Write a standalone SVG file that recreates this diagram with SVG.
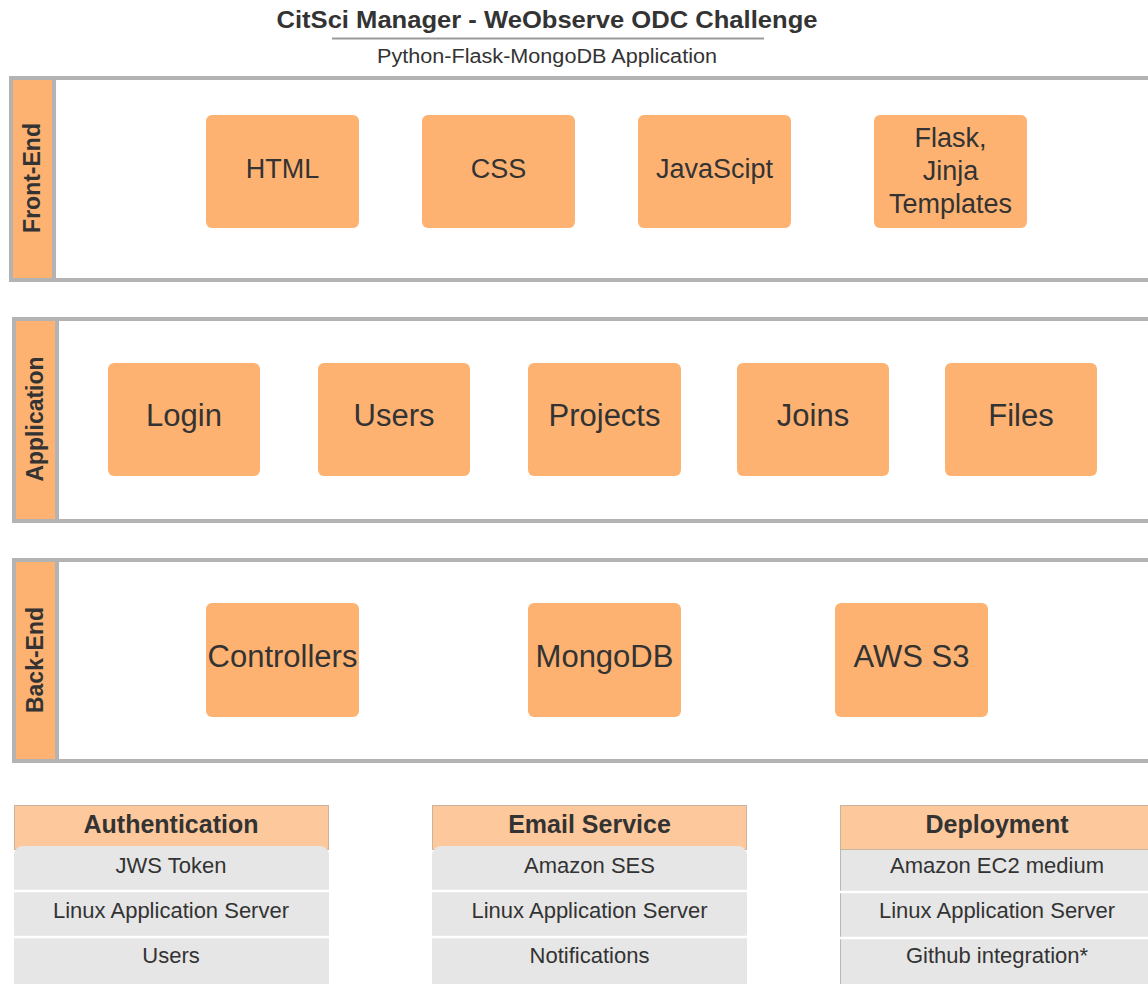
<svg xmlns="http://www.w3.org/2000/svg" width="1148" height="984" viewBox="0 0 1148 984">
<style>
text{font-family:"Liberation Sans",Arial,sans-serif;fill:#333333}
.band{fill:#ffffff;stroke:#b3b3b3;stroke-width:4}
.lab{fill:#fdb272;stroke:#b3b3b3;stroke-width:4}
.vt{font-size:23px;font-weight:bold;text-anchor:middle}
.node{fill:#fdb272}
.t26{font-size:27px;text-anchor:middle}
.t31{font-size:31px;text-anchor:middle}
.hdr{fill:#fdc99c;stroke:#c9b49f;stroke-width:1}
.body{fill:#e6e6e6}
.sep{stroke:#ffffff;stroke-width:2.5}
.ht{font-size:25px;font-weight:bold;text-anchor:middle}
.rt{font-size:22px;text-anchor:middle}
</style>
<rect width="1148" height="984" fill="#ffffff"/>
<g id="title">
<text x="547" y="28" font-size="24" font-weight="bold" text-anchor="middle" textLength="541" lengthAdjust="spacingAndGlyphs">CitSci Manager - WeObserve ODC Challenge</text>
<line x1="332" y1="38.5" x2="764" y2="38.5" stroke="#9a9a9a" stroke-width="2"/>
<text x="547" y="63" font-size="20" text-anchor="middle" textLength="340" lengthAdjust="spacingAndGlyphs">Python-Flask-MongoDB Application</text>
</g>
<g id="band-frontend">
<rect class="band" x="11" y="78" width="1150" height="202"/>
<rect class="lab" x="11" y="78" width="43" height="202"/>
<text class="vt" transform="translate(40,178) rotate(-90)">Front-End</text>
</g>
<g id="band-application">
<rect class="band" x="14" y="319" width="1150" height="202"/>
<rect class="lab" x="14" y="319" width="43" height="202"/>
<text class="vt" transform="translate(43,419) rotate(-90)">Application</text>
</g>
<g id="band-backend">
<rect class="band" x="14" y="560" width="1150" height="201"/>
<rect class="lab" x="14" y="560" width="43" height="201"/>
<text class="vt" transform="translate(43,660) rotate(-90)">Back-End</text>
</g>
<g id="node-html"><rect class="node" x="206" y="115" width="153" height="113" rx="6"/><text class="t26" x="282.5" y="178">HTML</text></g>
<g id="node-css"><rect class="node" x="422" y="115" width="153" height="113" rx="6"/><text class="t26" x="498.5" y="178">CSS</text></g>
<g id="node-js"><rect class="node" x="638" y="115" width="153" height="113" rx="6"/><text class="t26" x="714.5" y="178">JavaScipt</text></g>
<g id="node-flask"><rect class="node" x="874" y="115" width="153" height="113" rx="6"/><text class="t26" x="950.5" y="147">Flask,</text><text class="t26" x="950.5" y="180">Jinja</text><text class="t26" x="950.5" y="213">Templates</text></g>
<g id="node-login"><rect class="node" x="108" y="363" width="152" height="113" rx="6"/><text class="t31" x="184" y="426">Login</text></g>
<g id="node-users"><rect class="node" x="318" y="363" width="152" height="113" rx="6"/><text class="t31" x="394" y="426">Users</text></g>
<g id="node-projects"><rect class="node" x="528" y="363" width="153" height="113" rx="6"/><text class="t31" x="604.5" y="426">Projects</text></g>
<g id="node-joins"><rect class="node" x="737" y="363" width="152" height="113" rx="6"/><text class="t31" x="813" y="426">Joins</text></g>
<g id="node-files"><rect class="node" x="945" y="363" width="152" height="113" rx="6"/><text class="t31" x="1021" y="426">Files</text></g>
<g id="node-controllers"><rect class="node" x="206" y="603" width="153" height="114" rx="6"/><text class="t31" x="282.5" y="667">Controllers</text></g>
<g id="node-mongodb"><rect class="node" x="528" y="603" width="153" height="114" rx="6"/><text class="t31" x="604.5" y="667">MongoDB</text></g>
<g id="node-awss3"><rect class="node" x="835" y="603" width="153" height="114" rx="6"/><text class="t31" x="911.5" y="667">AWS S3</text></g>
<g id="table-authentication">
<rect class="hdr" x="14.5" y="805.5" width="314" height="44"/>
<rect class="body" x="14" y="846" width="315" height="150" rx="9"/>
<line class="sep" x1="14" y1="891" x2="329" y2="891"/>
<line class="sep" x1="14" y1="937" x2="329" y2="937"/>
<text class="ht" x="171" y="833">Authentication</text>
<text class="rt" x="171" y="873">JWS Token</text>
<text class="rt" x="171" y="918">Linux Application Server</text>
<text class="rt" x="171" y="963">Users</text>
</g>
<g id="table-email">
<rect class="hdr" x="432.5" y="805.5" width="314" height="44"/>
<rect class="body" x="432" y="846" width="315" height="150" rx="9"/>
<line class="sep" x1="432" y1="891" x2="747" y2="891"/>
<line class="sep" x1="432" y1="937" x2="747" y2="937"/>
<text class="ht" x="589.5" y="833">Email Service</text>
<text class="rt" x="589.5" y="873">Amazon SES</text>
<text class="rt" x="589.5" y="918">Linux Application Server</text>
<text class="rt" x="589.5" y="963">Notifications</text>
</g>
<g id="table-deployment">
<rect class="hdr" x="840.5" y="805.5" width="320" height="44"/>
<rect class="body" x="840" y="850" width="320" height="146"/>
<line x1="840.5" y1="850" x2="840.5" y2="984" stroke="#b8b8b8" stroke-width="1"/>
<line class="sep" x1="840" y1="892" x2="1148" y2="892"/>
<line class="sep" x1="840" y1="938" x2="1148" y2="938"/>
<text class="ht" x="997" y="833">Deployment</text>
<text class="rt" x="997" y="873">Amazon EC2 medium</text>
<text class="rt" x="997" y="918">Linux Application Server</text>
<text class="rt" x="997" y="963">Github integration*</text>
</g>
<g id="connectors"></g>
</svg>
